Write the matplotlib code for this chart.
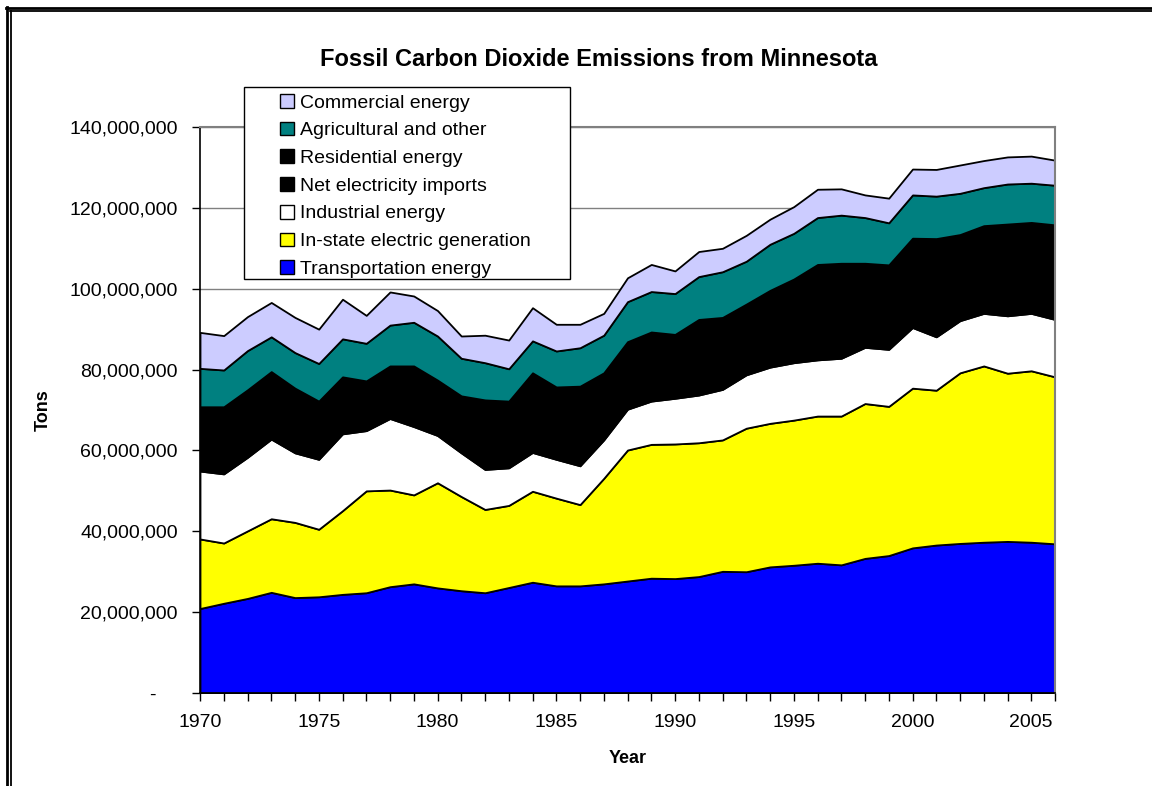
import matplotlib
matplotlib.use("Agg")
import matplotlib.pyplot as plt
from matplotlib.lines import Line2D
from matplotlib.patches import Rectangle
from matplotlib.ticker import FuncFormatter, MultipleLocator

plt.rcParams['font.family'] = ['Liberation Sans', 'DejaVu Sans']

years = list(range(1970, 2007))

# values in million tons
transportation = [20.9, 22.2, 23.4, 24.9, 23.6, 23.8, 24.4, 24.8, 26.3, 27.0,
                  26.0, 25.3, 24.8, 26.1, 27.4, 26.5, 26.5, 27.0, 27.7, 28.4,
                  28.3, 28.8, 30.1, 30.0, 31.2, 31.6, 32.1, 31.7, 33.3, 34.0,
                  35.9, 36.6, 37.0, 37.3, 37.5, 37.3, 36.9]
instate_generation = [17.2, 14.9, 16.7, 18.2, 18.6, 16.7, 20.7, 25.2, 23.9, 22.0,
                      26.0, 23.3, 20.6, 20.3, 22.5, 21.7, 20.1, 26.1, 32.4, 33.1,
                      33.3, 33.1, 32.5, 35.5, 35.5, 35.9, 36.4, 36.8, 38.3, 36.9,
                      39.5, 38.3, 42.2, 43.6, 41.6, 42.4, 41.3]
industrial = [16.8, 17.1, 18.2, 19.7, 17.2, 17.3, 19.0, 14.9, 17.7, 16.9,
              11.7, 10.8, 9.9, 9.3, 9.6, 9.6, 9.6, 9.5, 10.1, 10.7,
              11.3, 11.8, 12.5, 13.2, 13.9, 14.2, 13.9, 14.3, 13.9, 14.1,
              15.0, 13.2, 12.9, 13.0, 14.2, 14.2, 14.2]
net_imports = [5.4, 5.8, 5.7, 6.1, 6.0, 4.6, 4.2, 2.8, 3.2, 5.0,
               4.5, 5.3, 8.3, 7.7, 10.7, 8.7, 10.9, 8.4, 7.8, 7.9,
               7.2, 9.4, 8.8, 7.9, 9.6, 11.2, 13.6, 14.1, 12.1, 12.0,
               12.7, 14.8, 11.7, 11.9, 13.2, 12.9, 14.2]
residential = [10.5, 10.8, 11.0, 10.6, 10.0, 9.8, 9.9, 9.5, 9.8, 10.0,
               9.2, 8.8, 8.9, 8.8, 9.0, 9.2, 8.8, 8.2, 8.9, 9.2,
               8.6, 9.3, 9.0, 9.6, 9.4, 9.5, 10.0, 9.4, 8.7, 8.9,
               9.4, 9.5, 9.6, 9.8, 9.5, 9.6, 9.2]
agricultural = [9.5, 9.1, 9.7, 8.6, 8.8, 9.3, 9.4, 9.3, 10.1, 10.8,
                10.9, 9.3, 9.2, 8.0, 7.9, 8.9, 9.5, 9.3, 9.9, 10.0,
                10.1, 10.6, 11.3, 10.6, 11.4, 11.3, 11.6, 11.9, 11.3, 10.4,
                10.7, 10.5, 10.2, 9.4, 9.9, 9.7, 9.8]
commercial = [8.9, 8.5, 8.4, 8.5, 8.7, 8.5, 9.8, 6.9, 8.2, 6.5,
              6.3, 5.5, 6.8, 7.1, 8.2, 6.6, 5.8, 5.4, 5.9, 6.7,
              5.6, 6.2, 5.8, 6.4, 6.2, 6.6, 7.0, 6.5, 5.6, 6.1,
              6.4, 6.6, 7.0, 6.7, 6.7, 6.7, 6.2]

series_labels = ["Transportation energy", "In-state electric generation",
                 "Industrial energy", "Net electricity imports",
                 "Residential energy", "Agricultural and other",
                 "Commercial energy"]
series_colors = ["#0000FF", "#FFFF00", "#FFFFFF", "#000000", "#000000",
                 "#008080", "#CCCCFF"]

W, H = 1152, 786
fig = plt.figure(figsize=(W / 100, H / 100), dpi=100)
fig.patch.set_facecolor("white")

L, R, T, B = 200, 1055, 127, 693
ax = fig.add_axes([L / W, 1 - B / H, (R - L) / W, (B - T) / H])

scale = 1e6
data = [[v * scale for v in s] for s in
        [transportation, instate_generation, industrial, net_imports,
         residential, agricultural, commercial]]

polys = ax.stackplot(years, *data, labels=series_labels, colors=series_colors,
                     edgecolor="black", linewidth=1.3, zorder=2)

ax.set_xlim(1970, 2006)
ax.set_ylim(0, 140e6)
ax.yaxis.set_major_locator(MultipleLocator(20e6))
ax.xaxis.set_major_locator(MultipleLocator(5))
ax.xaxis.set_minor_locator(MultipleLocator(1))


def yfmt(v, pos):
    if abs(v) < 1:
        return "-    "
    return "{:,.0f}".format(v)


ax.yaxis.set_major_formatter(FuncFormatter(yfmt))
ax.grid(axis="y", color="#808080", linewidth=1.0, zorder=0)
ax.set_axisbelow(True)

for s in ["top", "right"]:
    ax.spines[s].set_color("#808080")
    ax.spines[s].set_linewidth(1.5)
for s in ["left", "bottom"]:
    ax.spines[s].set_color("black")
    ax.spines[s].set_linewidth(1.2)

ax.tick_params(axis="y", which="major", length=6, width=1, direction="out",
               labelsize=14, pad=10)
ax.tick_params(axis="x", which="both", length=6, width=1, direction="out",
               labelsize=14, pad=9)
ax.tick_params(axis="x", which="minor", length=6)

ax.set_xlabel("Year", fontsize=13, fontweight="bold", labelpad=14)
ax.set_ylabel("Tons", fontsize=13, fontweight="bold", labelpad=12.5)

fig.text(599 / W, 1 - 60 / H, "Fossil Carbon Dioxide Emissions from Minnesota",
         ha="center", va="center", fontsize=17, fontweight="bold")

# legend
handles, labels = ax.get_legend_handles_labels()
leg = fig.legend(handles[::-1], labels[::-1], loc="upper left",
                 bbox_to_anchor=(280 / W, 1 - 94 / H), frameon=False,
                 fontsize=14, handlelength=0.7, handleheight=0.7,
                 handletextpad=0.35, labelspacing=0.52, borderpad=0.0,
                 borderaxespad=0.0)
for h in leg.legend_handles:
    h.set_edgecolor("black")
    h.set_linewidth(1.0)
fig.add_artist(Rectangle((244 / W, 1 - 279 / H), (570 - 244) / W,
                         (279 - 87) / H, transform=fig.transFigure,
                         facecolor="white", edgecolor="black", linewidth=1.0,
                         zorder=3))
leg.set_zorder(4)

# outer frame (double line, top and left)
fig.add_artist(Line2D([6 / W, 1], [1 - 7.5 / H, 1 - 7.5 / H], color="black",
                      linewidth=2.0, transform=fig.transFigure))
fig.add_artist(Line2D([10 / W, 1], [1 - 11.2 / H, 1 - 11.2 / H], color="black",
                      linewidth=1.3, transform=fig.transFigure))
fig.add_artist(Line2D([7 / W, 7 / W], [0, 1 - 6.5 / H], color="black",
                      linewidth=2.0, transform=fig.transFigure))
fig.add_artist(Line2D([10.5 / W, 10.5 / W], [0, 1 - 10.5 / H], color="black",
                      linewidth=1.3, transform=fig.transFigure))

fig.savefig("out.png", dpi=100)
